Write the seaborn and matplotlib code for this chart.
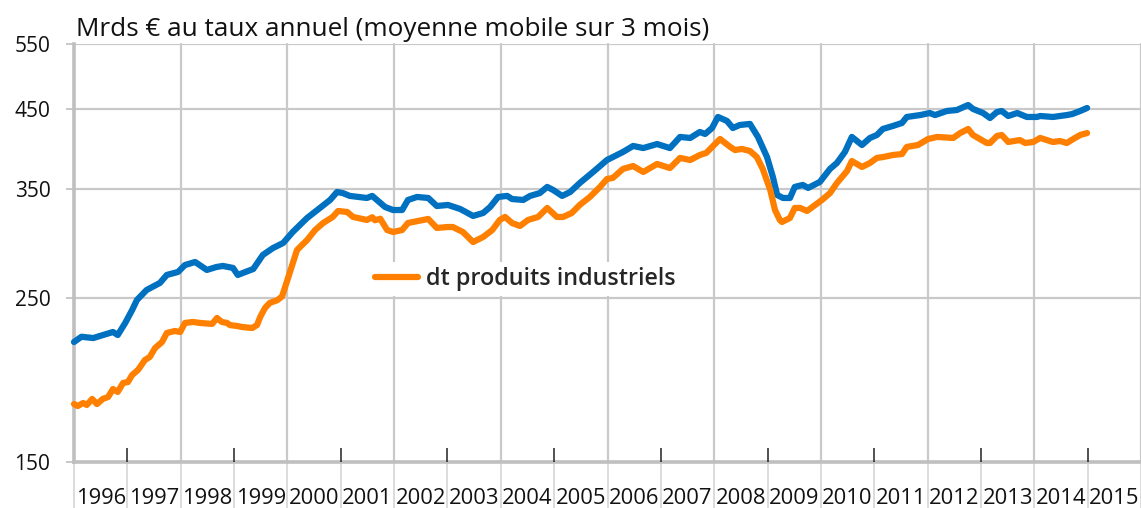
import matplotlib
matplotlib.use("Agg")
import matplotlib.pyplot as plt
from matplotlib.ticker import NullLocator, FixedLocator, NullFormatter
import seaborn as sns
import pandas as pd

# ---- data ----
blue_years = [1996.00, 1996.14, 1996.36, 1996.73, 1996.82, 1996.96, 1997.09, 1997.18, 1997.36,
              1997.61, 1997.74, 1997.95, 1998.08, 1998.27, 1998.49, 1998.67, 1998.79, 1998.98,
              1999.07, 1999.36, 1999.54, 1999.73, 1999.92, 2000.10, 2000.37, 2000.61, 2000.80,
              2000.93, 2001.04, 2001.17, 2001.49, 2001.59, 2001.83, 2001.98, 2002.15, 2002.26,
              2002.43, 2002.64, 2002.80, 2003.01, 2003.24, 2003.48, 2003.67, 2003.80, 2003.95,
              2004.12, 2004.21, 2004.42, 2004.55, 2004.73, 2004.87, 2004.98, 2005.15, 2005.30,
              2005.48, 2005.73, 2005.86, 2005.99, 2006.10, 2006.29, 2006.48, 2006.67, 2006.93,
              2007.17, 2007.36, 2007.55, 2007.73, 2007.83, 2007.96, 2008.07, 2008.24, 2008.35,
              2008.48, 2008.67, 2008.82, 2008.99, 2009.10, 2009.18, 2009.29, 2009.42, 2009.51,
              2009.66, 2009.76, 2009.98, 2010.17, 2010.30, 2010.45, 2010.58, 2010.77, 2010.92,
              2011.05, 2011.16, 2011.35, 2011.52, 2011.61, 2011.86, 2012.04, 2012.14, 2012.36,
              2012.55, 2012.76, 2012.85, 2013.04, 2013.17, 2013.30, 2013.39, 2013.51, 2013.68,
              2013.86, 2014.05, 2014.11, 2014.35, 2014.61, 2014.71, 2014.86, 2014.99]
blue_values = [217.8, 221.4, 220.5, 224.7, 222.6, 231.1, 240.6, 248.2, 256.0,
               261.7, 268.3, 270.8, 276.7, 279.3, 272.5, 275.0, 275.9, 274.2,
               268.3, 273.3, 285.5, 291.7, 296.3, 306.6, 320.3, 330.4, 338.7,
               347.2, 346.0, 343.0, 340.8, 343.0, 331.4, 328.3, 328.3, 338.7,
               341.9, 340.8, 332.4, 333.5, 329.3, 322.3, 325.3, 331.4, 341.9,
               343.0, 339.7, 338.7, 343.0, 346.0, 352.7, 349.4, 343.0, 347.2,
               357.0, 369.5, 376.4, 383.5, 387.0, 393.2, 400.6, 398.0, 403.0,
               398.0, 412.0, 410.7, 418.4, 415.8, 423.6, 438.4, 433.0, 423.6,
               427.6, 429.0, 412.0, 387.0, 363.8, 344.0, 340.8, 340.8, 352.7,
               354.9, 351.6, 358.2, 373.0, 380.0, 393.2, 412.0, 401.8, 410.7,
               414.5, 422.3, 426.3, 430.3, 438.4, 441.0, 443.8, 441.0, 446.6,
               448.0, 455.0, 449.5, 443.8, 437.0, 445.2, 446.6, 439.7, 443.8,
               438.4, 438.4, 439.7, 438.4, 441.0, 442.4, 446.6, 450.8]

orange_years = [1996.00, 1996.07, 1996.17, 1996.24, 1996.34, 1996.43, 1996.54, 1996.64, 1996.73,
                1996.82, 1996.92, 1997.01, 1997.09, 1997.20, 1997.33, 1997.42, 1997.52, 1997.65,
                1997.74, 1997.89, 1997.99, 1998.08, 1998.23, 1998.36, 1998.59, 1998.68, 1998.77,
                1998.87, 1998.92, 1999.06, 1999.15, 1999.34, 1999.43, 1999.49, 1999.58, 1999.67,
                1999.81, 1999.90, 2000.00, 2000.18, 2000.37, 2000.52, 2000.67, 2000.85, 2000.95,
                2001.12, 2001.23, 2001.49, 2001.59, 2001.64, 2001.74, 2001.87, 2001.98, 2002.15,
                2002.26, 2002.45, 2002.64, 2002.80, 2003.01, 2003.10, 2003.29, 2003.48, 2003.67,
                2003.84, 2003.98, 2004.08, 2004.21, 2004.36, 2004.51, 2004.70, 2004.87, 2005.05,
                2005.17, 2005.33, 2005.48, 2005.67, 2005.86, 2005.99, 2006.10, 2006.29, 2006.48,
                2006.67, 2006.93, 2007.17, 2007.36, 2007.55, 2007.73, 2007.85, 2008.11, 2008.30,
                2008.39, 2008.52, 2008.67, 2008.80, 2008.91, 2009.05, 2009.14, 2009.23, 2009.27,
                2009.42, 2009.51, 2009.61, 2009.74, 2010.02, 2010.17, 2010.30, 2010.49, 2010.58,
                2010.77, 2010.92, 2011.05, 2011.16, 2011.35, 2011.52, 2011.61, 2011.82, 2012.01,
                2012.18, 2012.48, 2012.61, 2012.76, 2012.85, 2013.11, 2013.17, 2013.30, 2013.39,
                2013.51, 2013.73, 2013.83, 2013.98, 2014.11, 2014.35, 2014.48, 2014.61, 2014.73,
                2014.86, 2014.99]
orange_values = [179.6, 178.5, 180.2, 179.1, 182.5, 179.6, 182.5, 183.6, 188.2,
                 186.5, 191.8, 192.3, 196.6, 199.7, 206.0, 207.9, 213.8, 217.8,
                 224.0, 225.4, 224.7, 231.1, 231.8, 231.1, 230.4, 234.7, 231.8,
                 231.1, 229.6, 228.9, 228.2, 227.5, 229.6, 235.4, 242.1, 246.0,
                 248.0, 251.0, 264.1, 289.9, 299.1, 308.5, 315.3, 321.3, 327.3,
                 326.3, 321.3, 318.3, 321.0, 318.0, 319.5, 308.5, 306.6, 308.5,
                 315.3, 317.3, 319.3, 310.5, 311.4, 311.4, 306.6, 297.2, 301.9,
                 308.5, 318.3, 321.3, 315.3, 312.4, 318.3, 321.3, 330.4, 321.3,
                 321.3, 325.3, 333.5, 341.9, 352.7, 361.5, 362.7, 373.0, 376.4,
                 369.5, 378.8, 374.0, 386.0, 383.5, 389.5, 392.0, 409.4, 399.4,
                 395.6, 396.9, 394.4, 387.0, 373.0, 349.4, 328.3, 318.3, 316.3,
                 320.3, 330.4, 330.4, 327.3, 338.7, 346.0, 357.0, 370.6, 382.3,
                 375.3, 380.0, 386.0, 387.0, 389.5, 390.7, 399.4, 401.8, 409.4,
                 412.0, 410.7, 417.0, 422.3, 414.5, 404.3, 404.3, 413.2, 414.5,
                 405.6, 408.0, 404.3, 405.6, 410.7, 405.6, 406.8, 404.3, 409.4,
                 414.5, 417.0]

blue_name = "total"
orange_name = "dt produits industriels"
y_ticks = [150, 250, 350, 450, 550]
year_labels = [str(y) for y in range(1996, 2016)]
subtitle = "Mrds € au taux annuel (moyenne mobile sur 3 mois)"

BLUE = "#0070C0"
ORANGE = "#FF8000"
GRID = "#C9C9C9"
AXIS = "#BFBFBF"

# ---- style ----
sns.set_style("white")
plt.rcParams["font.family"] = ["Open Sans", "DejaVu Sans"]

W, H = 1141, 508
fig = plt.figure(figsize=(W / 100, H / 100), dpi=100)
ax = fig.add_axes([74 / W, 46 / H, 1067 / W, 418 / H])

df = pd.concat([
    pd.DataFrame({"year": blue_years, "value": blue_values, "series": blue_name}),
    pd.DataFrame({"year": orange_years, "value": orange_values, "series": orange_name}),
], ignore_index=True)

sns.lineplot(data=df, x="year", y="value", hue="series",
             palette={blue_name: BLUE, orange_name: ORANGE},
             estimator=None, sort=False, linewidth=4.5, ax=ax, legend=False, zorder=5)
for ln in ax.lines:
    ln.set_solid_capstyle("round")
    ln.set_solid_joinstyle("round")
    ln.set_clip_on(False)

# y axis (log)
ax.set_yscale("log")
ax.set_ylim(150, 550)
ax.yaxis.set_major_locator(FixedLocator(y_ticks))
ax.yaxis.set_minor_locator(NullLocator())
ax.set_yticklabels([str(v) for v in y_ticks])
ax.tick_params(axis="y", which="major", direction="out", length=6, width=1.2,
               color=AXIS, labelsize=15, labelcolor="#111111", pad=11, left=True)
ax.yaxis.grid(True, color=GRID, linewidth=1.6)

# x axis
ax.set_xlim(1996, 2016)
centers = [y + 0.5 for y in range(1996, 2016)]
ax.xaxis.set_major_locator(FixedLocator(centers))
ax.set_xticklabels(year_labels)
ax.xaxis.set_minor_locator(FixedLocator(list(range(1996, 2017))))
ax.xaxis.set_minor_formatter(NullFormatter())
ax.tick_params(axis="x", which="major", length=0, labelsize=15.8, labelcolor="#111111", pad=19)
ax.tick_params(axis="x", which="minor", direction="out", length=34, width=1.2, color="#D6D6D6",
               bottom=True)
ax.xaxis.grid(False)
for yr in range(1998, 2017, 2):
    ax.axvline(yr, color=GRID, linewidth=1.6, zorder=0.5, clip_on=False)
odd_years = list(range(1997, 2016, 2))
ax.vlines(odd_years, 0, 14 / 418, transform=ax.get_xaxis_transform(),
          color="#222222", linewidth=1.1, zorder=3)

for side in ["top", "right"]:
    ax.spines[side].set_visible(False)
for side in ["left", "bottom"]:
    ax.spines[side].set_color(AXIS)
    ax.spines[side].set_linewidth(2.6)
ax.set_xlabel("")
ax.set_ylabel("")

# legend (orange only)
handle = plt.Line2D([], [], color=ORANGE, linewidth=4.5, solid_capstyle="round")
leg = ax.legend([handle], [orange_name], loc="center left",
                bbox_to_anchor=((370 - 74) / 1067, (462 - 279) / 418),
                frameon=True, fancybox=False, framealpha=1, facecolor="white",
                edgecolor="none", fontsize=16.8, handlelength=1.85, handletextpad=0.33,
                borderpad=0.2, borderaxespad=0)
for t in leg.get_texts():
    t.set_fontweight("semibold")
leg.set_zorder(10)

fig.text(76 / W, 1 - 36 / H, subtitle, fontsize=18.8, color="#111111", va="baseline", ha="left")

fig.savefig("out.png", dpi=100)
